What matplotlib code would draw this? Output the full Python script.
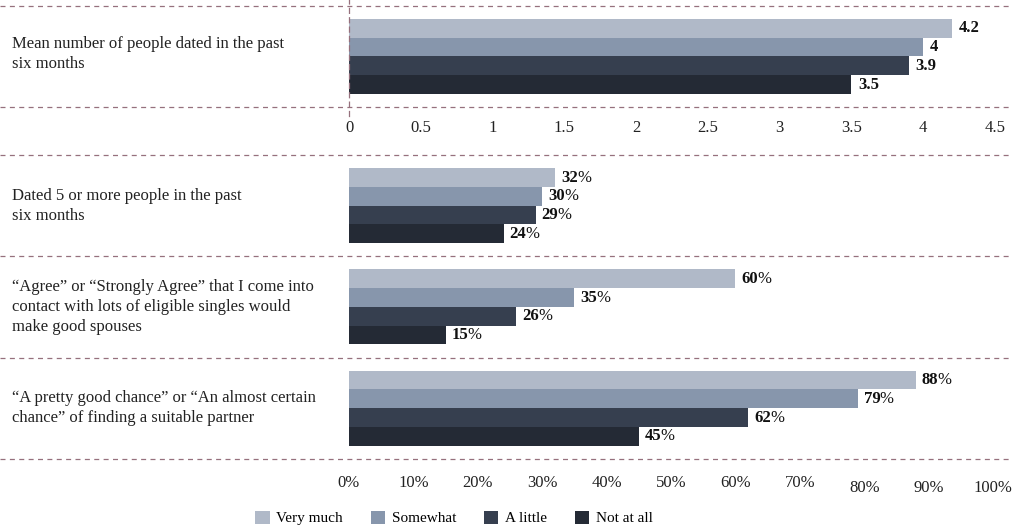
import matplotlib
matplotlib.use("Agg")
import numpy as np
import matplotlib.pyplot as plt
from matplotlib.patches import Patch

plt.rcParams['font.family'] = ['Liberation Serif', 'DejaVu Serif']

# -----------------------------------------------------------------------------
# Data
# -----------------------------------------------------------------------------
series = ["Very much", "Somewhat", "A little", "Not at all"]
colors = ["#b0b9c8", "#8796ac", "#363f4f", "#242a35"]

mean_label = "Mean number of people dated in the past\nsix months"
mean_dated = [4.2, 4.0, 3.9, 3.5]
mean_ticks = [0, 0.5, 1, 1.5, 2, 2.5, 3, 3.5, 4, 4.5]

pct_labels = [
    "Dated 5 or more people in the past\nsix months",
    "\u201cAgree\u201d or \u201cStrongly Agree\u201d that I come into\ncontact with lots of eligible singles would\nmake good spouses",
    "\u201cA pretty good chance\u201d or \u201cAn almost certain\nchance\u201d of finding a suitable partner",
]
pct_very_much = [32, 60, 88]
pct_somewhat = [30, 35, 79]
pct_a_little = [29, 26, 62]
pct_not_at_all = [24, 15, 45]
pct_ticks = [0, 10, 20, 30, 40, 50, 60, 70, 80, 90, 100]

DASH = '#96707d'
DASH_STYLE = (0, (4, 3.5))
TXT = '#222222'
W, H = 1018, 529
GROUP_STEP = 5.4
FS = 12


def px_axes(fig, left, right, top, bottom):
    return fig.add_axes([left / W, 1 - bottom / H, (right - left) / W, (bottom - top) / H])


def dashed(ax, y, width_px):
    # separator running from the left margin to the right edge of the figure
    ax.axhline(y, xmin=-349 / width_px, xmax=(1010 - 349) / width_px, color=DASH,
               lw=0.9, linestyle=DASH_STYLE, clip_on=False, zorder=1)


def bold_value(ax, x, y, txt, pct=False):
    t = ax.text(x, y, txt, fontsize=FS, fontweight='bold', va='center', ha='left',
                color='#111111')
    if pct:
        ax.annotate('%', xy=(1, 0), xycoords=t, xytext=(-0.5, 0),
                    textcoords='offset points', va='bottom', ha='left',
                    fontsize=FS, color='#111111')


fig = plt.figure(figsize=(W / 100, H / 100), dpi=100)

# -----------------------------------------------------------------------------
# Top panel: mean number
# -----------------------------------------------------------------------------
ax1 = px_axes(fig, 349, 995, 0, 116)
offsets = np.arange(len(series)) - 1.5
for i, (v, c) in enumerate(zip(mean_dated, colors)):
    ax1.barh(offsets[i], v, height=1.0, color=c, zorder=2)
    bold_value(ax1, v + 0.045, offsets[i], f"{v:g}")
ax1.set_xlim(0, 4.5)
ax1.set_ylim(3.173, -3.013)
for yy in (-2.69, 2.69):
    dashed(ax1, yy, 646)
ax1.set_yticks([])
ax1.set_xticks(mean_ticks)
ax1.set_xticklabels([f"{t:g}" for t in mean_ticks])
ax1.tick_params(axis='x', length=0, pad=3, labelsize=FS, colors=TXT)
for s in ('top', 'right', 'bottom'):
    ax1.spines[s].set_visible(False)
ax1.spines['left'].set_color(DASH)
ax1.spines['left'].set_linestyle(DASH_STYLE)
ax1.spines['left'].set_linewidth(0.9)
fig.text(12 / W, 1 - 54 / H, mean_label, fontsize=FS, va='center', ha='left',
         linespacing=1.35, color=TXT)

# -----------------------------------------------------------------------------
# Bottom panel: percentages
# -----------------------------------------------------------------------------
ax2 = px_axes(fig, 349, 993, 155, 458.75)
pct_series = [pct_very_much, pct_somewhat, pct_a_little, pct_not_at_all]
centers = np.arange(len(pct_labels)) * GROUP_STEP
for i, (vals, c) in enumerate(zip(pct_series, colors)):
    ys = centers + offsets[i]
    ax2.barh(ys, vals, height=1.0, color=c, zorder=2)
    for y, v in zip(ys, vals):
        bold_value(ax2, v + 0.9, y, f"{v}", pct=True)
ax2.set_xlim(0, 100)
ax2.set_ylim(centers[-1] + GROUP_STEP / 2, -GROUP_STEP / 2)
seps = np.append(centers - GROUP_STEP / 2, centers[-1] + GROUP_STEP / 2)
for yy in seps:
    dashed(ax2, yy, 644)
ax2.set_yticks([])
ax2.set_xticks(pct_ticks)
ax2.set_xticklabels([f"{t}%" for t in pct_ticks])
ax2.tick_params(axis='x', length=0, pad=12, labelsize=FS, colors=TXT)
for tick in ax2.xaxis.get_major_ticks()[8:]:
    tick.set_pad(15)
for s in ax2.spines.values():
    s.set_visible(False)
for y, lab in zip(centers, pct_labels):
    ax2.annotate(lab, xy=(12 / W, y), xycoords=('figure fraction', 'data'),
                 fontsize=FS, va='center', ha='left', linespacing=1.35, color=TXT)

# -----------------------------------------------------------------------------
# Legend
# -----------------------------------------------------------------------------
handles = [Patch(facecolor=c, edgecolor='none', label=s) for s, c in zip(series, colors)]
fig.legend(handles=handles, loc='center', bbox_to_anchor=(454 / W, 1 - 518 / H),
           ncol=4, frameon=False, fontsize=11, handlelength=0.95, handleheight=0.95,
           handletextpad=0.45, columnspacing=1.8, borderpad=0.2)

fig.savefig("out.png", dpi=100)
